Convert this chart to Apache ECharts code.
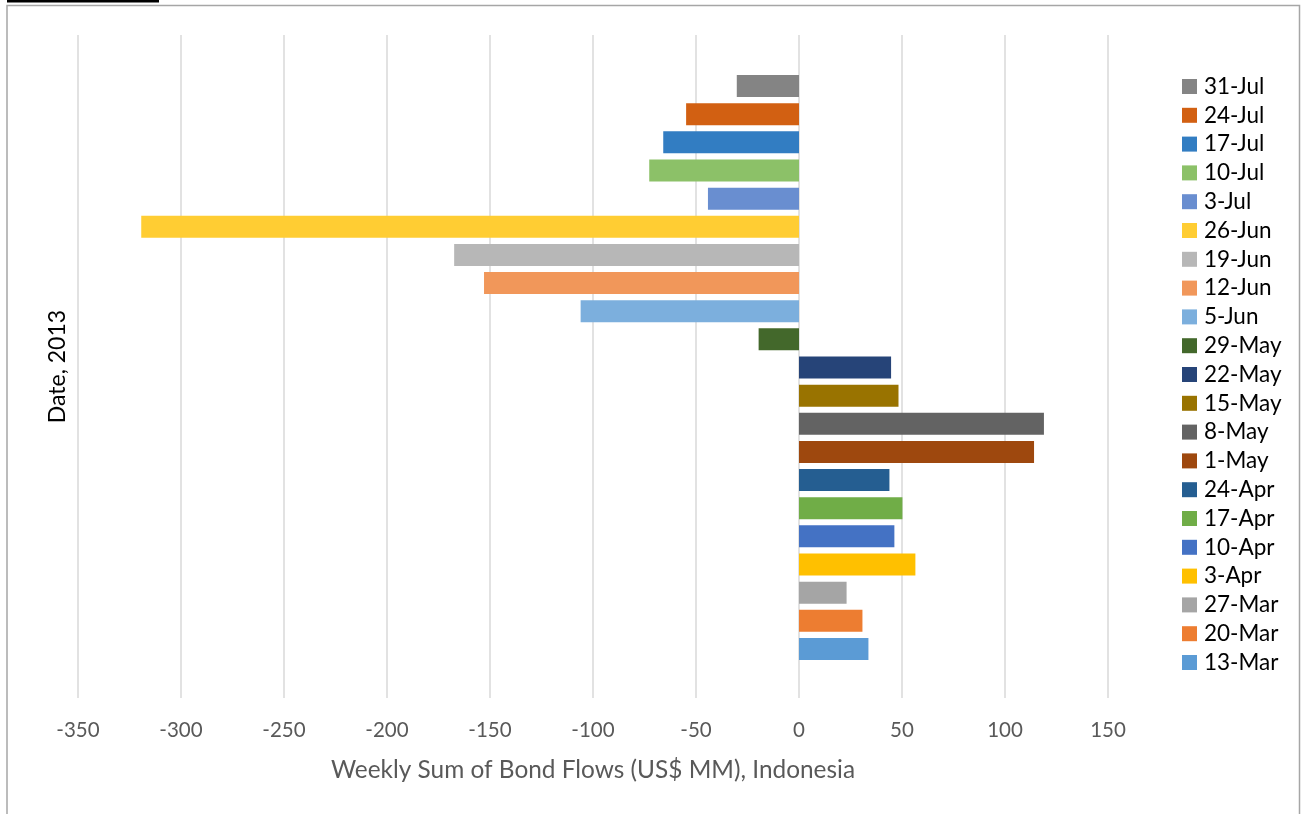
<!DOCTYPE html>
<html>
<head>
<meta charset="utf-8">
<title>Weekly Sum of Bond Flows, Indonesia</title>
<script src="https://cdn.jsdelivr.net/npm/echarts@6/dist/echarts.min.js"></script>
<style>
  html, body { margin: 0; padding: 0; background: #ffffff; }
  #chart { width: 1302px; height: 814px; }
</style>
</head>
<body>
<div id="chart"></div>
<script>
// Weeks of 2013, oldest first (drawn bottom to top)
const weeks = ['13-Mar', '20-Mar', '27-Mar', '3-Apr', '10-Apr', '17-Apr', '24-Apr',
  '1-May', '8-May', '15-May', '22-May', '29-May', '5-Jun', '12-Jun', '19-Jun',
  '26-Jun', '3-Jul', '10-Jul', '17-Jul', '24-Jul', '31-Jul'];

// Weekly sum of bond flows, US$ MM
const flows = [33.7, 30.8, 23.1, 56.5, 46.3, 50.2, 43.9,
  114.1, 118.9, 48.3, 44.7, -19.6, -106, -152.9, -167.4,
  -319.3, -44.2, -72.7, -65.9, -54.8, -30.2];

// One colour per week
const weekColors = ['#5b9bd5', '#ed7d31', '#a5a5a5', '#ffc000', '#4472c4', '#70ad47', '#255e91',
  '#9e480e', '#636363', '#997300', '#264478', '#43682b', '#7cafdd', '#f1975a', '#b7b7b7',
  '#ffcd33', '#698ed0', '#8cc168', '#327dc2', '#d26012', '#848484'];

// Value axis ticks
const xTicks = [-350, -300, -250, -200, -150, -100, -50, 0, 50, 100, 150];

const FONT = 'Lato, "Open Sans", sans-serif';

// Each week is its own series so it gets its own legend entry;
// all series share one stack so every bar sits centred in its row.
const series = weeks.map((w, i) => ({
  name: w,
  type: 'bar',
  xAxisIndex: 1,
  yAxisIndex: 1,
  stack: 'week',
  barWidth: 22,
  itemStyle: { color: weekColors[i] },
  emphasis: { disabled: true },
  data: weeks.map((_, j) => (j === i ? flows[i] : null))
}));

const chart = echarts.init(document.getElementById('chart'), null, { renderer: 'canvas' });

chart.setOption({
  animation: false,
  backgroundColor: '#ffffff',
  textStyle: { fontFamily: FONT },
  grid: [
    // frame grid: gridlines, tick labels and axis titles
    { left: 78, right: 194, top: 35, bottom: 116 },
    // bar grid
    { left: 78, right: 194, top: 72, height: 591 }
  ],
  xAxis: [
    {
      gridIndex: 0,
      type: 'value',
      min: xTicks[0],
      max: xTicks[xTicks.length - 1],
      interval: 50,
      axisLine: { show: false },
      axisTick: { show: false },
      splitLine: { show: true, lineStyle: { color: '#d9d9d9', width: 1.5 } },
      axisLabel: { color: '#595959', fontSize: 20.5, margin: 22, fontFamily: FONT },
      name: 'Weekly Sum of Bond Flows (US$ MM), Indonesia',
      nameLocation: 'middle',
      nameGap: 60,
      nameTextStyle: { color: '#595959', fontSize: 24.4, fontFamily: FONT }
    },
    {
      gridIndex: 1,
      type: 'value',
      min: xTicks[0],
      max: xTicks[xTicks.length - 1],
      interval: 50,
      show: false
    }
  ],
  yAxis: [
    {
      gridIndex: 0,
      type: 'value',
      min: 0,
      max: 1,
      axisLine: { show: false },
      axisTick: { show: false },
      axisLabel: { show: false },
      splitLine: { show: false },
      name: 'Date, 2013',
      nameLocation: 'middle',
      nameRotate: 90,
      nameGap: 9,
      nameTextStyle: { color: '#000000', fontSize: 23, fontFamily: FONT }
    },
    {
      gridIndex: 1,
      type: 'category',
      data: weeks,
      show: false
    }
  ],
  legend: {
    orient: 'vertical',
    left: 1177,
    top: 70,
    icon: 'rect',
    itemWidth: 15,
    itemHeight: 15,
    itemGap: 5.8,
    selectedMode: false,
    data: weeks.slice().reverse(),
    textStyle: { color: '#000000', fontSize: 22.5, fontFamily: FONT, padding: [0, 0, 0, 2] }
  },
  graphic: [
    {
      type: 'rect',
      silent: true,
      shape: { x: 7, y: 5.5, width: 1292.5, height: 830 },
      style: { fill: null, stroke: '#a6a6a6', lineWidth: 1.5 }
    },
    {
      type: 'rect',
      silent: true,
      shape: { x: 7, y: 0, width: 152, height: 2.5 },
      style: { fill: '#000000' }
    }
  ],
  series: series
});
</script>
</body>
</html>
